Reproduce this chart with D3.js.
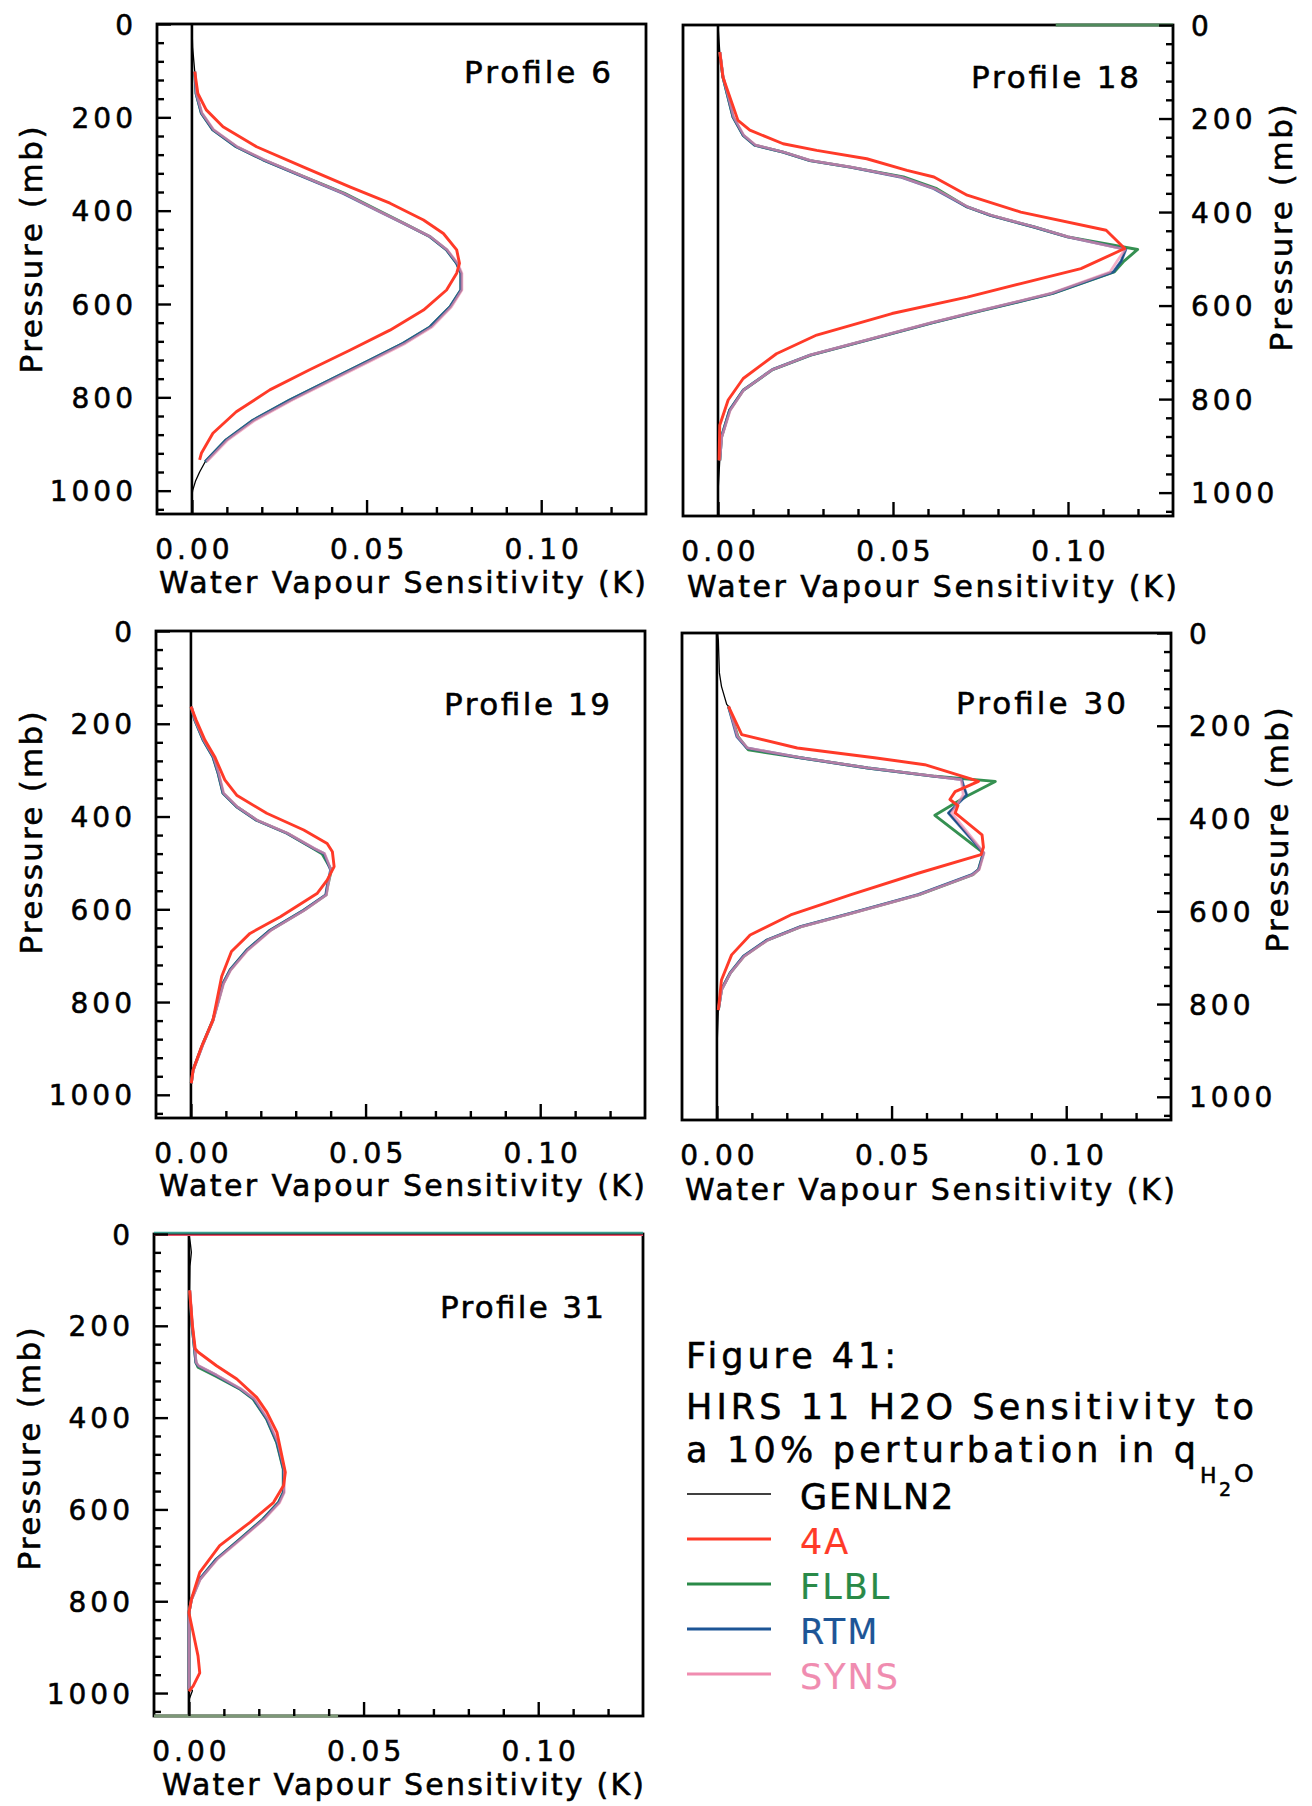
<!DOCTYPE html>
<html>
<head>
<meta charset="utf-8">
<script src="https://cdn.jsdelivr.net/npm/d3@7"></script>
<style>
  html, body { margin: 0; padding: 0; background: #fff; }
  svg { display: block; }
  text { font-family: "DejaVu Sans", "Noto Sans", sans-serif; fill: #000; stroke: #000; stroke-width: 0.55px; }
</style>
</head>
<body>
<svg id="fig" width="1312" height="1806"></svg>
<script>
// ---------------------------------------------------------------------------
// HIRS channel 11 water-vapour sensitivity profiles, five models per profile.
// Each series is a list of [pressure (mb), sensitivity (K)] pairs.
// ---------------------------------------------------------------------------
const models = ["GENLN2", "4A", "FLBL", "RTM", "SYNS"];
const profileNames = ["Profile 6", "Profile 18", "Profile 19", "Profile 30", "Profile 31"];
const pressureTicks = [0, 200, 400, 600, 800, 1000];
const sensitivityTicks = [0, 0.05, 0.10];
const pressureMinorStep = 40;     // mb
const sensitivityMinorStep = 0.01; // K

// ---- Profile 6 ----
const p6_GENLN2 = [[0,0],[50,0.0002],[102,0.0008],[149,0.0012],[191,0.0027],[227,0.006],[263,0.0127],[291,0.0204],[327,0.0318],[363,0.0433],[399,0.0529],[427,0.0605],[456,0.0682],[484,0.0729],[513,0.0758],[534,0.0770],[570,0.0770],[606,0.0739],[649,0.0682],[684,0.0605],[720,0.0510],[763,0.0395],[806,0.0280],[849,0.0175],[891,0.0098],[938,0.0038],[960,0.0022],[980,0.0010],[1000,0.0002],[1012,0]];
const p6_4A = [[102,0.0008],[149,0.0017],[184,0.0041],[220,0.0089],[263,0.0185],[306,0.0318],[349,0.0452],[384,0.0567],[420,0.0663],[449,0.0720],[484,0.0758],[513,0.0766],[534,0.0758],[570,0.0729],[613,0.0663],[656,0.0567],[699,0.0452],[741,0.0337],[784,0.0223],[831,0.0127],[877,0.0060],[920,0.0027],[934,0.0022]];
const p6_FLBL = [[102,0.0008],[149,0.0012],[191,0.0027],[227,0.006],[263,0.0127],[291,0.0204],[327,0.0320],[363,0.0437],[399,0.0533],[427,0.0607],[456,0.0682],[484,0.0729],[513,0.0758],[534,0.0770],[570,0.0770],[606,0.0739],[649,0.0682],[684,0.0605],[720,0.0510],[763,0.0395],[806,0.0280],[849,0.0175],[891,0.0098],[938,0.0038]];
const p6_RTM = [[102,0.0008],[149,0.0012],[191,0.0027],[227,0.006],[263,0.0127],[291,0.0204],[327,0.0318],[363,0.0433],[399,0.0529],[427,0.0605],[456,0.0682],[484,0.0729],[513,0.0758],[534,0.0770],[570,0.0770],[606,0.0739],[649,0.0682],[684,0.0605],[720,0.0510],[763,0.0395],[806,0.0280],[849,0.0175],[891,0.0098],[938,0.0038]];
const p6_SYNS = [[102,0.0009],[149,0.0013],[191,0.0029],[227,0.0063],[263,0.0130],[291,0.0207],[327,0.0320],[363,0.0435],[399,0.0530],[427,0.0606],[456,0.0683],[484,0.0731],[513,0.0761],[534,0.0773],[570,0.0773],[606,0.0743],[649,0.0688],[684,0.0612],[720,0.0517],[763,0.0402],[806,0.0287],[849,0.0181],[891,0.0103],[938,0.0042]];

// ---- Profile 18 ----
const p18_GENLN2 = [[0,0],[58,0.0005],[111,0.0014],[197,0.0043],[236,0.0072],[257,0.0105],[272,0.0186],[290,0.0263],[304,0.0378],[325,0.0521],[350,0.0617],[389,0.0712],[407,0.0779],[432,0.0903],[453,0.0999],[480,0.1165],[505,0.1152],[528,0.1130],[574,0.0955],[612,0.0745],[637,0.0610],[674,0.0425],[706,0.0263],[737,0.0155],[781,0.0072],[824,0.0033],[881,0.0010],[931,0.0005],[1000,0]];
const p18_4A = [[58,0.0005],[111,0.0014],[204,0.0057],[225,0.0091],[254,0.0186],[268,0.0282],[286,0.0425],[311,0.0540],[325,0.0617],[364,0.0712],[400,0.0865],[439,0.1109],[478,0.1162],[521,0.1037],[553,0.0865],[582,0.0712],[617,0.0497],[663,0.0282],[703,0.0167],[756,0.0072],[802,0.0029],[856,0.0005],[931,0.0003]];
const p18_FLBL = [[58,0.0005],[111,0.0014],[197,0.0043],[236,0.0072],[257,0.0105],[272,0.0186],[290,0.0263],[304,0.0378],[325,0.0530],[350,0.0625],[389,0.0712],[407,0.0779],[432,0.0903],[453,0.0999],[480,0.1199],[505,0.1160],[528,0.1132],[574,0.0957],[612,0.0748],[637,0.0612],[674,0.0427],[706,0.0265],[737,0.0156],[781,0.0072],[824,0.0033],[881,0.0010],[931,0.0005]];
const p18_RTM = [[58,0.0005],[111,0.0014],[197,0.0043],[236,0.0072],[257,0.0105],[272,0.0186],[290,0.0263],[304,0.0378],[325,0.0521],[350,0.0617],[389,0.0712],[407,0.0779],[432,0.0903],[453,0.0999],[480,0.1165],[505,0.1152],[528,0.1130],[574,0.0955],[612,0.0745],[637,0.0610],[674,0.0425],[706,0.0263],[737,0.0155],[781,0.0072],[824,0.0033],[881,0.0010],[931,0.0005]];
const p18_SYNS = [[58,0.0006],[111,0.0015],[197,0.0045],[236,0.0074],[257,0.0108],[272,0.0189],[290,0.0266],[304,0.0381],[325,0.0523],[350,0.0619],[389,0.0714],[407,0.0781],[432,0.0905],[453,0.1001],[480,0.1163],[505,0.1140],[528,0.1120],[574,0.0950],[612,0.0742],[637,0.0607],[674,0.0423],[706,0.0262],[737,0.0155],[781,0.0073],[824,0.0035],[881,0.0011],[931,0.0005]];
const p18_topTrace = [[0,0.0965],[0,0.13]];

// ---- Profile 19 ----
const p19_GENLN2 = [[0,0],[163,0.0001],[192,0.0011],[235,0.0035],[271,0.0063],[307,0.0078],[350,0.0092],[379,0.0131],[408,0.0188],[436,0.0275],[469,0.0352],[480,0.0381],[515,0.0400],[551,0.0390],[569,0.0386],[602,0.0323],[645,0.0227],[688,0.0160],[731,0.0112],[760,0.0092],[839,0.0063],[889,0.0035],[947,0.0006],[975,0.0001],[1000,0]];
const p19_4A = [[163,0],[192,0.0015],[235,0.0040],[271,0.0068],[321,0.0097],[354,0.0131],[393,0.0217],[429,0.0323],[458,0.0390],[476,0.0405],[508,0.0410],[537,0.0390],[566,0.0361],[616,0.0256],[652,0.0169],[691,0.0116],[745,0.0088],[839,0.0063],[897,0.0030],[947,0.0006],[975,0.0001]];
const p19_FLBL = [[163,0.0001],[192,0.0011],[235,0.0035],[271,0.0063],[307,0.0078],[350,0.0092],[379,0.0131],[408,0.0188],[436,0.0275],[469,0.0350],[480,0.0375],[515,0.0402],[551,0.0391],[569,0.0387],[602,0.0323],[645,0.0227],[688,0.0160],[731,0.0112],[760,0.0092],[839,0.0063],[889,0.0035],[947,0.0006],[975,0.0001]];
const p19_RTM = [[163,0.0001],[192,0.0011],[235,0.0035],[271,0.0063],[307,0.0078],[350,0.0092],[379,0.0131],[408,0.0188],[436,0.0275],[469,0.0352],[480,0.0381],[515,0.0400],[551,0.0390],[569,0.0386],[602,0.0323],[645,0.0227],[688,0.0160],[731,0.0112],[760,0.0092],[839,0.0063],[889,0.0035],[947,0.0006],[975,0.0001]];
const p19_SYNS = [[163,0.0002],[192,0.0012],[235,0.0037],[271,0.0065],[307,0.0080],[350,0.0094],[379,0.0133],[408,0.0190],[436,0.0277],[469,0.0354],[480,0.0383],[515,0.0401],[551,0.0392],[569,0.0388],[602,0.0326],[645,0.0230],[688,0.0163],[731,0.0114],[760,0.0094],[839,0.0064],[889,0.0036],[947,0.0007],[975,0.0001]];

// ---- Profile 30 ----
const p30_GENLN2 = [[0,0.0002],[14,0.0004],[86,0.0007],[115,0.0013],[154,0.0028],[158,0.0033],[223,0.0057],[248,0.0086],[269,0.0239],[291,0.0432],[309,0.0624],[316,0.0701],[330,0.0706],[349,0.0715],[388,0.0663],[474,0.0763],[510,0.0749],[521,0.0730],[564,0.0576],[604,0.0384],[633,0.0239],[662,0.0143],[697,0.0076],[733,0.0038],[769,0.0013],[813,0.0004],[900,0],[1000,0]];
const p30_4A = [[158,0.0033],[219,0.0071],[248,0.0230],[269,0.0451],[284,0.0595],[313,0.0720],[320,0.0749],[342,0.0682],[359,0.0667],[372,0.0690],[388,0.0682],[435,0.0759],[462,0.0763],[478,0.0756],[518,0.0576],[564,0.0384],[608,0.0211],[651,0.0095],[694,0.0042],[748,0.0013],[813,0.0004]];
const p30_FLBL = [[158,0.0033],[223,0.0060],[252,0.0090],[269,0.0239],[291,0.0432],[309,0.0624],[320,0.0797],[352,0.0715],[393,0.0624],[474,0.0763],[510,0.0749],[521,0.0733],[564,0.0579],[604,0.0386],[633,0.0241],[662,0.0144],[697,0.0077],[733,0.0038],[769,0.0013],[813,0.0004]];
const p30_RTM = [[158,0.0033],[223,0.0057],[248,0.0086],[269,0.0239],[291,0.0432],[309,0.0624],[316,0.0701],[330,0.0706],[349,0.0715],[388,0.0663],[474,0.0763],[510,0.0749],[521,0.0730],[564,0.0576],[604,0.0384],[633,0.0239],[662,0.0143],[697,0.0076],[733,0.0038],[769,0.0013],[813,0.0004]];
const p30_SYNS = [[158,0.0034],[223,0.0059],[248,0.0088],[269,0.0242],[291,0.0435],[309,0.0627],[316,0.0699],[330,0.0702],[349,0.0705],[388,0.0672],[474,0.0765],[510,0.0751],[521,0.0733],[564,0.0580],[604,0.0388],[633,0.0243],[662,0.0146],[697,0.0078],[733,0.0039],[769,0.0014],[813,0.0004]];

// ---- Profile 31 ----
const p31_GENLN2 = [[0,0],[20,0.0004],[40,0.0007],[70,0.0003],[123,0.0002],[199,0.0009],[280,0.0020],[287,0.0026],[308,0.0079],[337,0.0146],[359,0.0185],[403,0.0223],[454,0.0252],[512,0.0271],[563,0.0271],[585,0.0257],[621,0.0213],[665,0.0146],[708,0.0079],[752,0.0031],[796,0.0007],[825,0],[985,0],[995,0.0010],[1015,0]];
const p31_4A = [[123,0.0002],[199,0.0010],[250,0.0018],[257,0.0026],[287,0.0079],[316,0.0137],[356,0.0194],[388,0.0223],[432,0.0252],[519,0.0276],[548,0.0271],[585,0.0242],[628,0.0175],[679,0.0088],[737,0.0031],[796,0.0007],[825,0],[868,0.0012],[919,0.0026],[956,0.0031],[985,0.0012],[996,0]];
const p31_FLBL = [[123,0.0002],[199,0.0009],[280,0.0020],[290,0.0026],[310,0.0077],[337,0.0144],[359,0.0183],[403,0.0222],[454,0.0251],[512,0.0270],[563,0.0270],[585,0.0256],[621,0.0212],[665,0.0145],[708,0.0079],[752,0.0031],[796,0.0007],[825,0],[992,0]];
const p31_RTM = [[123,0.0002],[199,0.0009],[280,0.0020],[287,0.0026],[308,0.0079],[337,0.0146],[359,0.0185],[403,0.0223],[454,0.0252],[512,0.0271],[563,0.0271],[585,0.0257],[621,0.0213],[665,0.0146],[708,0.0079],[752,0.0031],[796,0.0007],[825,0],[992,0]];
const p31_SYNS = [[123,0.0003],[199,0.0010],[280,0.0021],[287,0.0028],[308,0.0081],[337,0.0148],[359,0.0188],[403,0.0226],[454,0.0255],[512,0.0273],[563,0.0273],[585,0.0260],[621,0.0216],[665,0.0149],[708,0.0082],[752,0.0033],[796,0.0008],[825,0],[992,0]];
const p31_topTrace = [[0,-0.01],[0,0.13]];
const p31_baseTrace = [[1050,-0.01],[1050,0.0427]];

// ---------------------------------------------------------------------------
// Styling and layout
// ---------------------------------------------------------------------------
const SENS_DOMAIN = [-0.01, 0.13];
const PRESSURE_DOMAIN = [0, 1050];

const modelStyle = {
  "GENLN2": { color: "#000000", width: 1.3, opacity: 1 },
  "4A":     { color: "#ff3a28", width: 2.9, opacity: 1 },
  "FLBL":   { color: "#2a8a48", width: 2.9, opacity: 0.95 },
  "RTM":    { color: "#1d5596", width: 2.9, opacity: 0.85 },
  "SYNS":   { color: "#f08cb0", width: 2.7, opacity: 0.7 }
};
const drawOrder = ["GENLN2", "FLBL", "RTM", "SYNS", "4A"];

const panels = [
  { name: profileNames[0], x0: 157, x1: 646, y0: 24, y1: 514, side: "left",
    label: [464, 83, 147], xTitle: [159, 593, 487], yTitle: [42, 250, 247],
    series: { GENLN2: p6_GENLN2, "4A": p6_4A, FLBL: p6_FLBL, RTM: p6_RTM, SYNS: p6_SYNS }, traces: [] },
  { name: profileNames[1], x0: 683, x1: 1173, y0: 25, y1: 516, side: "right",
    label: [971, 88, 168], xTitle: [687, 597, 490], yTitle: [1292, 228, 247],
    series: { GENLN2: p18_GENLN2, "4A": p18_4A, FLBL: p18_FLBL, RTM: p18_RTM, SYNS: p18_SYNS },
    traces: [{ data: p18_topTrace, color: "#4f8a5c", width: 3 }] },
  { name: profileNames[2], x0: 156, x1: 645, y0: 631, y1: 1118, side: "left",
    label: [444, 715, 166], xTitle: [159, 1196, 486], yTitle: [42, 833, 243],
    series: { GENLN2: p19_GENLN2, "4A": p19_4A, FLBL: p19_FLBL, RTM: p19_RTM, SYNS: p19_SYNS }, traces: [] },
  { name: profileNames[3], x0: 682, x1: 1171, y0: 633, y1: 1120, side: "right",
    label: [956, 714, 170], xTitle: [685, 1200, 490], yTitle: [1288, 830, 245],
    series: { GENLN2: p30_GENLN2, "4A": p30_4A, FLBL: p30_FLBL, RTM: p30_RTM, SYNS: p30_SYNS }, traces: [] },
  { name: profileNames[4], x0: 154, x1: 643, y0: 1234, y1: 1716, side: "left",
    label: [440, 1318, 164], xTitle: [162, 1795, 482], yTitle: [40, 1449, 243],
    series: { GENLN2: p31_GENLN2, "4A": p31_4A, FLBL: p31_FLBL, RTM: p31_RTM, SYNS: p31_SYNS },
    traces: [
      { data: p31_topTrace, color: "#3a9f8f", width: 2, dy: -1.2 },
      { data: p31_topTrace, color: "#f0506a", width: 1.6, dy: 1.2 },
      { data: p31_baseTrace, color: "#7d9877", width: 3.2, dy: 0 }
    ] }
];

const TICK_FONT = 28, TICK_SPACING = 4;
const MAJOR_TICK = 14, MINOR_TICK = 7;

const svg = d3.select("#fig");
svg.append("rect").attr("width", 1312).attr("height", 1806).attr("fill", "#fff");

const minorPressure = d3.range(pressureMinorStep, PRESSURE_DOMAIN[1], pressureMinorStep)
  .filter(p => !pressureTicks.includes(p));
const minorSens = d3.range(1, 13).map(i => i * sensitivityMinorStep)
  .filter(v => !sensitivityTicks.some(t => Math.abs(t - v) < 1e-9));

function styleAxis(g) {
  g.select(".domain").remove();
  g.selectAll(".tick line").attr("stroke", "#000").attr("stroke-width", 2.4);
  g.selectAll(".tick text")
    .attr("font-family", "DejaVu Sans, sans-serif")
    .attr("font-size", TICK_FONT)
    .attr("letter-spacing", TICK_SPACING)
    .attr("fill", "#000");
  g.attr("font-family", null).attr("font-size", null);
}

panels.forEach((cfg, i) => {
  const g = svg.append("g").attr("class", "panel");
  const x = d3.scaleLinear().domain(SENS_DOMAIN).range([cfg.x0, cfg.x1]);
  const y = d3.scaleLinear().domain(PRESSURE_DOMAIN).range([cfg.y0, cfg.y1]);

  const clipId = "clip" + i;
  svg.append("clipPath").attr("id", clipId).append("rect")
    .attr("x", cfg.x0).attr("y", cfg.y0)
    .attr("width", cfg.x1 - cfg.x0).attr("height", cfg.y1 - cfg.y0);

  const plot = g.append("g").attr("clip-path", `url(#${clipId})`);

  // zero-sensitivity reference line
  plot.append("line")
    .attr("x1", x(0)).attr("x2", x(0))
    .attr("y1", y(PRESSURE_DOMAIN[0])).attr("y2", y(PRESSURE_DOMAIN[1]))
    .attr("stroke", "#000").attr("stroke-width", 2.6);

  const line = d3.line().x(d => x(d[1])).y(d => y(d[0]));
  drawOrder.forEach(m => {
    const s = modelStyle[m];
    plot.append("path").datum(cfg.series[m])
      .attr("d", line)
      .attr("fill", "none")
      .attr("stroke", s.color)
      .attr("stroke-width", s.width)
      .attr("stroke-opacity", s.opacity)
      .attr("stroke-linejoin", "round");
  });

  // frame
  g.append("rect")
    .attr("x", cfg.x0).attr("y", cfg.y0)
    .attr("width", cfg.x1 - cfg.x0).attr("height", cfg.y1 - cfg.y0)
    .attr("fill", "none").attr("stroke", "#000").attr("stroke-width", 2.8);

  // traces lying on the frame edges
  cfg.traces.forEach(t => {
    g.append("path").datum(t.data)
      .attr("d", line)
      .attr("transform", `translate(0,${t.dy || 0})`)
      .attr("fill", "none").attr("stroke", t.color).attr("stroke-width", t.width);
  });

  // bottom axis: minor and major ticks pointing inward
  g.append("g").attr("transform", `translate(0,${cfg.y1})`)
    .call(d3.axisBottom(x).tickValues(minorSens).tickSize(-MINOR_TICK).tickFormat(""))
    .call(styleAxis);
  g.append("g").attr("transform", `translate(0,${cfg.y1})`)
    .call(d3.axisBottom(x).tickValues(sensitivityTicks).tickSize(-MAJOR_TICK)
      .tickPadding(25.6).tickFormat(d3.format(".2f")))
    .call(styleAxis)
    .call(a => a.selectAll(".tick text").attr("dx", TICK_SPACING / 2));

  // pressure axis (left or right side)
  if (cfg.side === "left") {
    g.append("g").attr("transform", `translate(${cfg.x0},0)`)
      .call(d3.axisLeft(y).tickValues(minorPressure).tickSize(-MINOR_TICK).tickFormat(""))
      .call(styleAxis);
    g.append("g").attr("transform", `translate(${cfg.x0},0)`)
      .call(d3.axisLeft(y).tickValues(pressureTicks).tickSize(-MAJOR_TICK)
        .tickPadding(24 - TICK_SPACING).tickFormat(d3.format("d")))
      .call(styleAxis)
      .call(a => a.selectAll(".tick text").attr("dy", "0.36em"));
  } else {
    g.append("g").attr("transform", `translate(${cfg.x1},0)`)
      .call(d3.axisRight(y).tickValues(minorPressure).tickSize(-MINOR_TICK).tickFormat(""))
      .call(styleAxis);
    g.append("g").attr("transform", `translate(${cfg.x1},0)`)
      .call(d3.axisRight(y).tickValues(pressureTicks).tickSize(-MAJOR_TICK)
        .tickPadding(18).tickFormat(d3.format("d")))
      .call(styleAxis)
      .call(a => a.selectAll(".tick text").attr("dy", "0.36em"));
  }

  // axis titles
  g.append("text")
    .attr("x", cfg.xTitle[0]).attr("y", cfg.xTitle[1])
    .attr("font-size", 30)
    .attr("textLength", cfg.xTitle[2]).attr("lengthAdjust", "spacing")
    .text("Water Vapour Sensitivity (K)");
  g.append("text")
    .attr("transform", `translate(${cfg.yTitle[0]},${cfg.yTitle[1]}) rotate(-90)`)
    .attr("x", -cfg.yTitle[2] / 2).attr("y", 0)
    .attr("font-size", 31)
    .attr("textLength", cfg.yTitle[2]).attr("lengthAdjust", "spacing")
    .text("Pressure (mb)");

  // profile label
  g.append("text")
    .attr("x", cfg.label[0]).attr("y", cfg.label[1])
    .attr("font-size", 31)
    .attr("textLength", cfg.label[2]).attr("lengthAdjust", "spacing")
    .text(cfg.name);
});

// ---------------------------------------------------------------------------
// Caption and legend
// ---------------------------------------------------------------------------
const cap = svg.append("g").attr("class", "caption");
const captionLines = [
  { text: "Figure 41:", x: 686, y: 1368, len: 210 },
  { text: "HIRS 11 H2O Sensitivity to", x: 686, y: 1419, len: 568 },
  { text: "a 10% perturbation in q", x: 686, y: 1462, len: 510 }
];
captionLines.forEach(c => {
  cap.append("text").attr("x", c.x).attr("y", c.y)
    .attr("font-size", 35)
    .attr("textLength", c.len).attr("lengthAdjust", "spacing")
    .text(c.text);
});
cap.append("text").attr("x", 1200).attr("y", 1483).attr("font-size", 22).text("H");
cap.append("text").attr("x", 1219).attr("y", 1496).attr("font-size", 19).text("2");
cap.append("text").attr("x", 1234).attr("y", 1482).attr("font-size", 25).text("O");

const legendY = d3.scalePoint().domain(models).range([1494, 1674]);
const legend = svg.append("g").attr("class", "legend");
models.forEach(m => {
  const s = modelStyle[m];
  legend.append("line")
    .attr("x1", 687).attr("x2", 771)
    .attr("y1", legendY(m)).attr("y2", legendY(m))
    .attr("stroke", s.color)
    .attr("stroke-width", m === "GENLN2" ? 1.5 : 3.2);
  legend.append("text")
    .attr("x", 800).attr("y", legendY(m) + 14.5)
    .attr("font-size", 35)
    .attr("letter-spacing", 2)
    .style("fill", s.color)
    .style("stroke", s.color)
    .style("stroke-width", m === "GENLN2" ? "0.55px" : "0.2px")
    .text(m);
});
</script>
</body>
</html>
